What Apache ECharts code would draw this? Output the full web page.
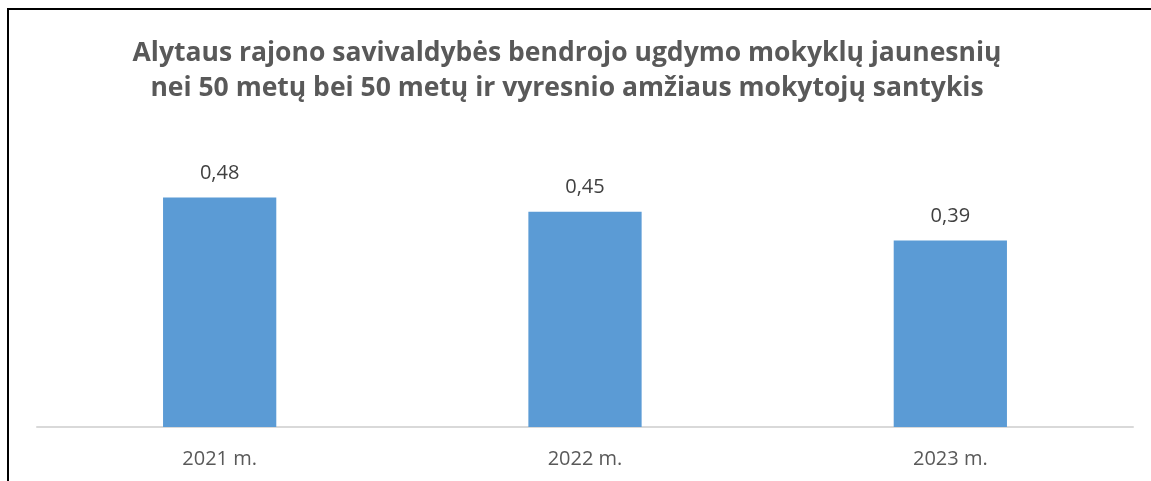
<!DOCTYPE html>
<html>
<head>
<meta charset="utf-8">
<script src="https://cdn.jsdelivr.net/npm/echarts@6/dist/echarts.min.js"></script>
<style>
  html, body { margin: 0; padding: 0; background: #fff; overflow: hidden; }
  #frame { position: absolute; left: 7px; top: 8px; width: 1200px; height: 600px; border: 2px solid #000; box-sizing: border-box; }
  #chart { position: absolute; left: 0; top: 0; width: 1151px; height: 481px; }
</style>
</head>
<body>
<div id="frame"></div>
<div id="chart"></div>
<script>
  const titleText = 'Alytaus rajono savivaldybės bendrojo ugdymo mokyklų jaunesnių\nnei 50 metų bei 50 metų ir vyresnio amžiaus mokytojų santykis'
  const years = ['2021 m.', '2022 m.', '2023 m.']
  const ratio = [0.48, 0.45, 0.39]

  const chart = echarts.init(document.getElementById('chart'))
  chart.setOption({
    animation: false,
    title: {
      text: titleText,
      left: 562,
      textAlign: 'center',
      top: 31,
      textStyle: {
        fontFamily: 'Open Sans',
        fontSize: 26.5,
        fontWeight: 'bold',
        color: '#595959',
        lineHeight: 35
      }
    },
    grid: {
      left: 37,
      right: 18,
      top: 140,
      bottom: 54
    },
    xAxis: {
      type: 'category',
      data: years,
      axisLine: { lineStyle: { color: '#d9d9d9', width: 2 } },
      axisTick: { show: false },
      axisLabel: {
        fontFamily: 'Open Sans',
        fontSize: 20,
        color: '#595959',
        margin: 22
      }
    },
    yAxis: {
      type: 'value',
      min: 0,
      max: 0.6,
      show: false
    },
    series: [
      {
        type: 'bar',
        data: ratio,
        barWidth: '31%',
        itemStyle: { color: '#5b9bd5' },
        label: {
          show: true,
          position: 'top',
          distance: 14,
          fontFamily: 'Open Sans',
          fontSize: 20,
          color: '#404040',
          formatter: p => p.value.toFixed(2).replace('.', ',')
        }
      }
    ]
  })
</script>
</body>
</html>
